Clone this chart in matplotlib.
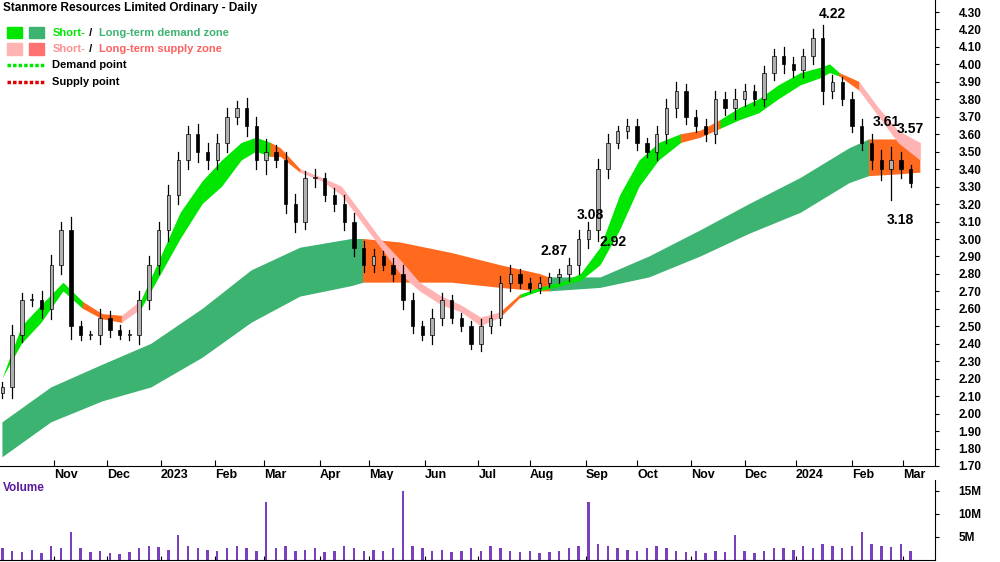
import numpy as np
import pandas as pd
import matplotlib
matplotlib.use("Agg")
import matplotlib.pyplot as plt
from matplotlib.patches import Rectangle

plt.rcParams['font.family'] = ['Liberation Sans', 'DejaVu Sans']

start = "2022-10-03"
step = 4  # trading days between samples
closes = [2.15,2.45,2.65,2.65,2.60,2.85,3.05,2.50,2.45,2.45,2.55,2.48,2.45,2.45,2.65,2.85,3.05,3.25,3.45,3.60,
          3.50,3.45,3.55,3.70,3.75,3.65,3.45,3.50,3.45,3.20,3.10,3.35,3.35,3.25,3.20,3.10,2.95,2.85,2.90,2.85,
          2.80,2.65,2.50,2.45,2.55,2.65,2.55,2.50,2.40,2.50,2.55,2.75,2.80,2.75,2.72,2.75,2.78,2.80,2.85,3.00,
          3.05,3.40,3.55,3.62,3.65,3.55,3.50,3.60,3.75,3.85,3.70,3.65,3.60,3.80,3.75,3.80,3.85,3.80,3.95,4.05,
          4.00,3.97,4.05,4.15,3.85,3.90,3.80,3.65,3.55,3.45,3.40,3.45,3.40,3.32]
wicks = [0.06,0.12,0.08,0.07,0.10,0.12,0.10,0.15,0.06,0.05,0.10,0.08,0.05,0.06,0.10,0.10,0.10,0.12,0.10,0.10,
         0.12,0.10,0.10,0.10,0.08,0.12,0.10,0.15,0.08,0.10,0.12,0.08,0.10,0.06,0.08,0.10,0.10,0.08,0.08,0.06,
         0.08,0.10,0.08,0.06,0.10,0.08,0.06,0.05,0.06,0.08,0.08,0.08,0.10,0.06,0.05,0.06,0.05,0.06,0.08,0.10,
         0.10,0.12,0.10,0.06,0.08,0.08,0.06,0.10,0.10,0.10,0.08,0.08,0.08,0.10,0.08,0.12,0.08,0.06,0.08,0.08,
         0.10,0.08,0.08,0.10,0.15,0.08,0.06,0.08,0.08,0.10,0.12,0.35,0.10,0.05]
volumes = [2.5,2.0,1.8,2.2,1.5,3.0,2.5,6.0,2.5,1.8,2.0,1.5,1.2,1.8,2.5,3.0,2.8,2.2,5.5,3.0,
           2.5,2.2,2.0,2.5,3.0,2.5,2.0,12.5,2.5,3.0,2.0,2.2,2.5,1.8,2.0,3.0,2.5,2.0,2.2,2.0,
           2.5,15.0,3.0,2.5,2.0,2.2,1.8,2.0,2.5,2.0,3.0,2.5,2.0,1.8,2.0,1.5,1.8,2.0,2.5,3.0,
           12.5,3.5,3.0,2.5,2.2,2.0,2.5,3.0,2.5,2.0,1.8,2.0,1.5,2.0,1.8,5.5,2.0,1.5,2.0,2.5,
           2.5,2.2,3.0,2.5,3.5,3.0,2.5,3.0,6.0,3.5,3.0,2.8,3.5,2.0]

# short-term zone (day index, upper, lower, state)
st_days  = [0,8,16,25,33,41,49,57,65,73,82,90,98,104,110,114,122,131,139,147,155,163,171,180,188,196,204,212,
            220,229,237,245,253,261,269,278,286,294,302,310,318,327,335,339,343,351,359,367,376]
st_upper = [2.20,2.50,2.62,2.75,2.64,2.57,2.56,2.65,2.90,3.15,3.33,3.45,3.55,3.58,3.55,3.52,3.40,3.35,3.30,3.15,
            3.00,2.88,2.75,2.67,2.62,2.55,2.58,2.68,2.72,2.75,2.80,2.95,3.25,3.45,3.55,3.60,3.62,3.68,3.75,3.80,
            3.88,3.95,3.98,4.00,3.95,3.90,3.75,3.62,3.55]
st_lower = [2.20,2.40,2.52,2.70,2.60,2.54,2.52,2.60,2.80,3.00,3.20,3.30,3.45,3.50,3.47,3.47,3.38,3.33,3.25,3.10,
            2.95,2.80,2.70,2.62,2.58,2.50,2.55,2.66,2.70,2.73,2.76,2.85,3.05,3.30,3.45,3.55,3.58,3.63,3.68,3.72,
            3.80,3.88,3.92,3.95,3.93,3.85,3.70,3.55,3.45]
st_state = ['D','D','D','D','O','O','P','D','D','D','D','D','D','D','O','O','P','P','P','P',
            'P','P','P','P','P','P','O','D','D','D','D','D','D','D','D','O','O','D','D','D',
            'D','D','D','D','O','P','P','P','P']
# long-term zone
lt_days  = [0,20,41,61,82,102,122,143,148,163,184,204,220,224,245,265,286,306,327,347,355,367,376]
lt_upper = [1.95,2.15,2.28,2.40,2.60,2.82,2.95,3.00,3.00,2.98,2.92,2.85,2.80,2.78,2.78,2.90,3.05,3.20,3.35,3.52,3.57,3.57,3.55]
lt_lower = [1.75,1.95,2.07,2.15,2.32,2.52,2.67,2.73,2.75,2.75,2.75,2.72,2.70,2.70,2.72,2.78,2.90,3.03,3.15,3.32,3.36,3.37,3.38]
lt_state = ['D','D','D','D','D','D','D','D','S','S','S','S','S','D','D','D','D','D','D','D','S','S','S']

labels = [("4.22", 340, 4.25, 'bottom'), ("3.61", 362, 3.63, 'bottom'), ("3.57", 372, 3.59, 'bottom'),
          ("3.18", 368, 3.15, 'top'), ("2.87", 226, 2.89, 'bottom'), ("3.08", 241, 3.10, 'bottom'),
          ("2.92", 250, 2.94, 'bottom')]

dates = pd.bdate_range(start, periods=400)
days = np.arange(len(closes)) * step

fig = plt.figure(figsize=(10, 5.62), dpi=100)
ax = fig.add_axes([0, 1 - 466/562, 0.935, 466/562])
axv = fig.add_axes([0, 2/562, 0.935, 80/562])

cmap_st = {'D': '#00e600', 'O': '#ff6a1f', 'P': '#ffb3b3'}
cmap_lt = {'D': '#3cb371', 'S': '#ff6a1f'}

def fill_zone(dx, up, lo, st, cmap):
    dx = np.array(dx, float); up = np.array(up); lo = np.array(lo)
    fine = np.linspace(dx[0], dx[-1], 1200)
    fu = np.interp(fine, dx, up); fl = np.interp(fine, dx, lo)
    idx = np.clip(np.searchsorted(dx, fine, side='right') - 1, 0, len(st) - 1)
    for key, col in cmap.items():
        m = np.array([st[i] == key for i in idx])
        m = m | np.roll(m, 1) | np.roll(m, -1)
        ax.fill_between(fine, fl, fu, where=m, color=col, lw=0, zorder=1)

fill_zone(lt_days, lt_upper, lt_lower, lt_state, cmap_lt)
fill_zone(st_days, st_upper, st_lower, st_state, cmap_st)

prev = closes[0] - 0.03
for d, c, w in zip(days, closes, wicks):
    o = prev
    up = c >= o
    hi = max(o, c) + min(w, 0.15) / 2; lo = min(o, c) - w / 2
    ax.plot([d, d], [lo, hi], color='black', lw=0.9, zorder=3)
    ax.add_patch(Rectangle((d - 0.7, min(o, c)), 1.4, max(abs(c - o), 0.005),
                           facecolor='#b0b0b0' if up else 'black', edgecolor='black', lw=0.5, zorder=4))
    prev = c

for t, d, p, va in labels:
    ax.text(d, p, t, ha='center', va=va, fontsize=10, fontweight='bold', zorder=5)

ax.set_xlim(-1, 382)
ax.set_ylim(1.70, 4.30 + 12/174.6)
ax.yaxis.tick_right()
ax.set_yticks(np.arange(1.7, 4.31, 0.1))
ax.set_yticklabels([f"{v:.2f}" for v in np.arange(1.7, 4.31, 0.1)], fontsize=8.5, fontweight='bold')
ax.tick_params(axis='y', direction='out', length=3, pad=14)
for s in ['top', 'left']:
    ax.spines[s].set_visible(False)

# month ticks
ticks, tlabs = [], []
for i in range(10, 380):
    if dates[i].month != dates[i-1].month:
        ticks.append(i)
        tlabs.append(str(dates[i].year) if dates[i].month == 1 else dates[i].strftime('%b'))
ax.set_xticks(ticks)
ax.set_xticklabels(tlabs, fontsize=9, fontweight='bold', ha='left')
ax.tick_params(axis='x', direction='in', length=4, pad=2)

ax.text(0.003, 0.995, "Stanmore Resources Limited Ordinary - Daily", transform=ax.transAxes,
        fontsize=8.5, fontweight='bold', va='top')
leg = [("#00e600", "#3cb371", "Short-", "Long-term demand zone", 'green'),
       ("#ffb3b3", "#ff7070", "Short-", "Long-term supply zone", 'pink')]
for k, (c1, c2, a, b, kind) in enumerate(leg):
    y = 0.93 - k * 0.035
    ax.add_patch(Rectangle((0.008, y - 0.012), 0.016, 0.025, transform=ax.transAxes, color=c1, zorder=6))
    ax.add_patch(Rectangle((0.031, y - 0.012), 0.016, 0.025, transform=ax.transAxes, color=c2, zorder=6))
    ax.text(0.056, y, a, transform=ax.transAxes, fontsize=8, fontweight='bold', va='center', color=c1 if kind == 'green' else '#ff9090')
    ax.text(0.056 + 0.036, y, " / ", transform=ax.transAxes, fontsize=8, fontweight='bold', va='center')
    ax.text(0.056 + 0.05, y, b, transform=ax.transAxes, fontsize=8, fontweight='bold', va='center', color=c2 if kind == 'green' else '#ff6060')
ax.plot([0.008, 0.047], [0.86, 0.86], transform=ax.transAxes, color='#00e600', lw=2.5, ls=(0, (1, 0.6)))
ax.text(0.056, 0.86, "Demand point", transform=ax.transAxes, fontsize=8, fontweight='bold', va='center')
ax.plot([0.008, 0.047], [0.825, 0.825], transform=ax.transAxes, color='#e00000', lw=2.5, ls=(0, (1, 0.6)))
ax.text(0.056, 0.825, "Supply point", transform=ax.transAxes, fontsize=8, fontweight='bold', va='center')

axv.bar(days, volumes, width=1.0, color='#7a3fbf', zorder=2)
axv.set_xlim(-1, 382)
axv.set_ylim(0, 17.3)
axv.yaxis.tick_right()
axv.set_yticks([5, 10, 15])
axv.set_yticklabels(['5M', '10M', '15M'], fontsize=8.5, fontweight='bold')
axv.tick_params(axis='y', direction='out', length=3, pad=14)
axv.set_xticks(ticks)
axv.tick_params(axis='x', direction='in', length=3, labelbottom=False)
for s in ['top', 'left']:
    axv.spines[s].set_visible(False)
axv.text(0.003, 0.97, "Volume", transform=axv.transAxes, fontsize=8.5, fontweight='bold', color='#5a1a9a', va='top')

fig.savefig("out.png", dpi=100)
